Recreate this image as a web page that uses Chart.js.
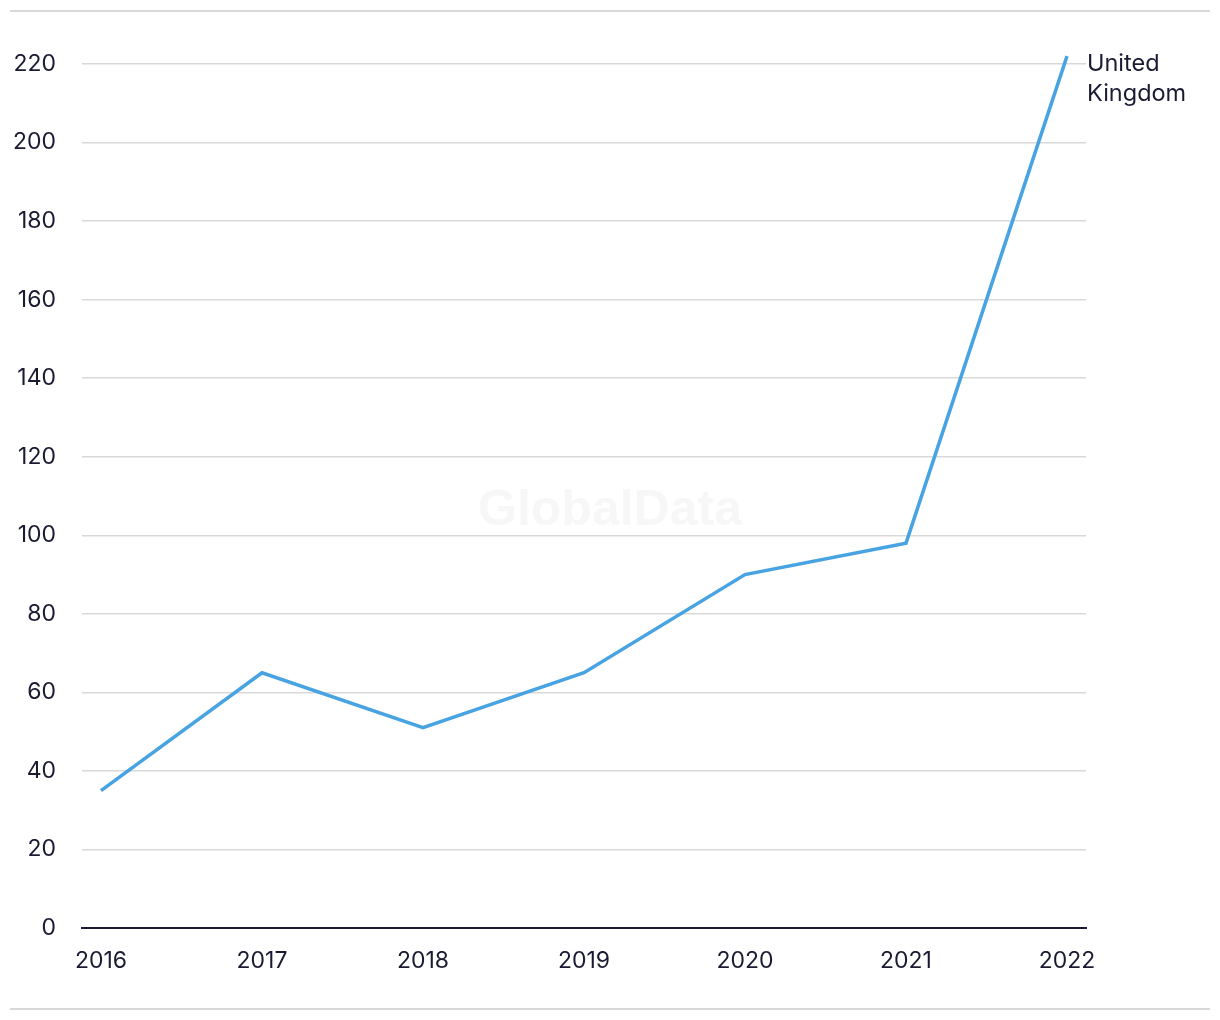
<!DOCTYPE html>
<html>
<head>
<meta charset="utf-8">
<script src="https://cdn.jsdelivr.net/npm/chart.js@4"></script>
<style>
  html, body { margin: 0; padding: 0; background: #fff; }
  #wrap { width: 1220px; height: 1020px; }
</style>
</head>
<body>
<div id="wrap"><canvas id="chart" width="1220" height="1020"></canvas></div>
<script>
const years = [2016, 2017, 2018, 2019, 2020, 2021, 2022];
const ukValues = [35, 65, 51, 65, 90, 98, 222];
const seriesLabel = ["United", "Kingdom"];
const yTicks = [0, 20, 40, 60, 80, 100, 120, 140, 160, 180, 200, 220];

const ink = "#1b1a33";
const fontFamily = "Inter, 'Noto Sans', sans-serif";

// frame lines, watermark and end label
const decor = {
    id: "decor",
    beforeDraw(chart) {
        const ctx = chart.ctx;
        ctx.save();
        ctx.strokeStyle = "#d9d9d9";
        ctx.lineWidth = 2;
        ctx.beginPath();
        ctx.moveTo(10, 11); ctx.lineTo(1210, 11);
        ctx.moveTo(10, 1009); ctx.lineTo(1210, 1009);
        ctx.stroke();
        ctx.restore();
    },
    beforeDatasetsDraw(chart) {
        const ctx = chart.ctx;
        ctx.save();
        ctx.fillStyle = "#f7f7f7";
        ctx.font = "bold 50px 'Liberation Sans', Arial, sans-serif";
        ctx.textAlign = "center";
        ctx.textBaseline = "middle";
        ctx.fillText("GlobalData", 610, 511);
        ctx.restore();
    },
    afterDatasetsDraw(chart) {
        const meta = chart.getDatasetMeta(0);
        const last = meta.data[meta.data.length - 1];
        const ctx = chart.ctx;
        ctx.save();
        ctx.fillStyle = ink;
        ctx.font = "23.5px " + fontFamily;
        ctx.textAlign = "left";
        ctx.textBaseline = "alphabetic";
        seriesLabel.forEach((t, i) => ctx.fillText(t, last.x + 20, last.y + 15 + i * 30));
        ctx.restore();
    }
};

new Chart(document.getElementById("chart"), {
    type: "line",
    data: {
        datasets: [{
            label: "United Kingdom",
            data: years.map((y, i) => ({ x: y, y: ukValues[i] })),
            borderColor: "#48a3e3",
            borderWidth: 3.5,
            pointRadius: 0,
            tension: 0,
            fill: false,
            clip: false
        }]
    },
    options: {
        responsive: false,
        animation: false,
        layout: { padding: { top: 64, right: 134, left: 0, bottom: 0 } },
        plugins: {
            legend: { display: false },
            tooltip: { enabled: false }
        },
        scales: {
            x: {
                type: "linear",
                min: 2016 - 19 / 161,
                max: 2022 + 19 / 161,
                afterBuildTicks: s => { s.ticks = years.map(v => ({ value: v })); },
                afterFit: s => { s.height = 92; },
                grid: { display: false, drawTicks: false },
                border: { display: true, color: ink, width: 2 },
                ticks: {
                    callback: v => String(v),
                    color: ink,
                    font: { family: fontFamily, size: 23 },
                    padding: 19,
                    maxRotation: 0
                }
            },
            y: {
                min: 0,
                max: 220,
                afterBuildTicks: s => { s.ticks = yTicks.map(v => ({ value: v })); },
                afterFit: s => { s.width = 82; },
                grid: { color: "#d9d9d9", lineWidth: 1.5, drawTicks: false },
                border: { display: false },
                ticks: {
                    color: ink,
                    font: { family: fontFamily, size: 23 },
                    padding: 26
                }
            }
        }
    },
    plugins: [decor]
});
</script>
</body>
</html>
